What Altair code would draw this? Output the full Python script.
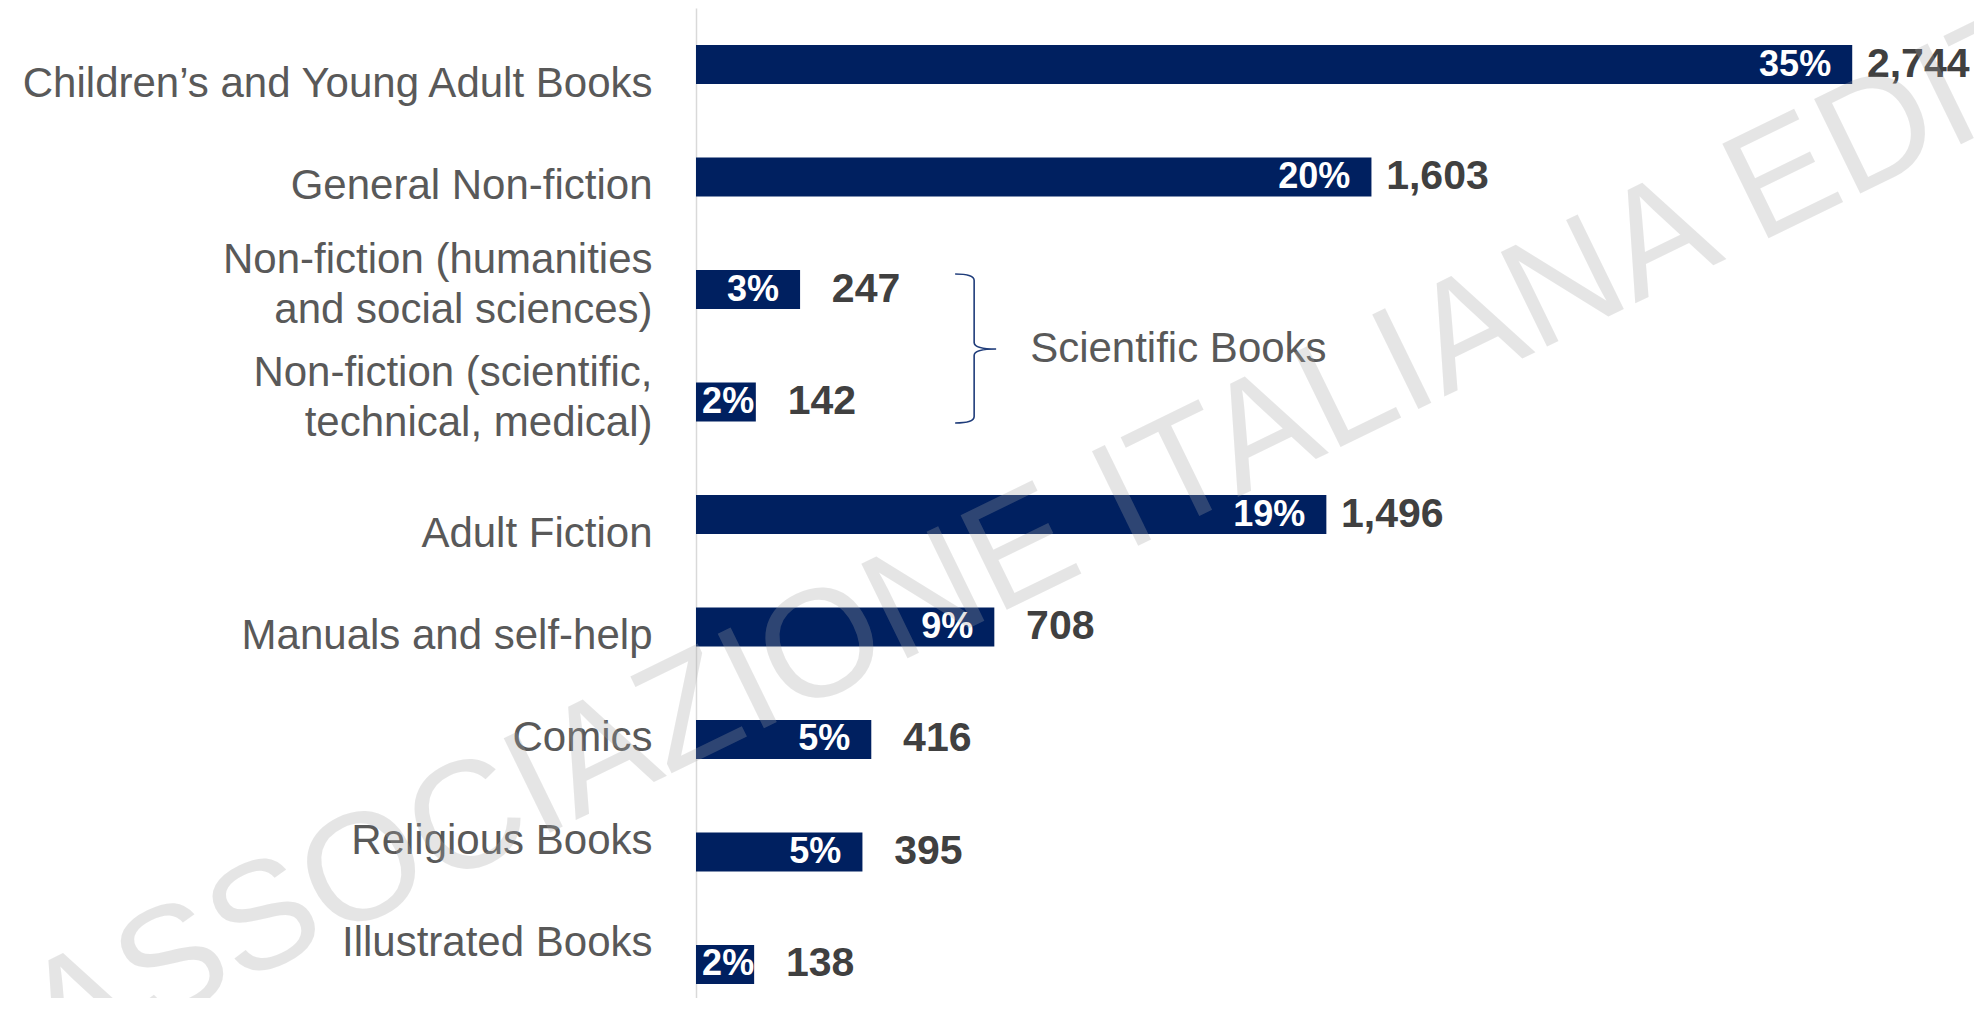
import altair as alt
import pandas as pd

# ---- data ----
categories = [
    "Children’s and Young Adult Books",
    "General Non-fiction",
    "Non-fiction (humanities|and social sciences)",
    "Non-fiction (scientific,|technical, medical)",
    "Adult Fiction",
    "Manuals and self-help",
    "Comics",
    "Religious Books",
    "Illustrated Books",
]
titles = [2744, 1603, 247, 142, 1496, 708, 416, 395, 138]
shares = ["35%", "20%", "3%", "2%", "19%", "9%", "5%", "5%", "2%"]
bracket_label = "Scientific Books"
watermark = "ASSOCIAZIONE ITALIANA EDITORI"

# per-label vertical nudge of the category labels (style, px)
label_shift = [19, 9, -30, -29, 19, 9, -1, -11, -21]

FONT = "Liberation Sans, Arial, sans-serif"
NAVY = "#002060"

df = pd.DataFrame({"category": categories, "value": titles, "share": shares})

xscale = alt.Scale(domain=[0, 3033])
yscale = alt.Scale(range=[0, 1013], paddingInner=0.653, paddingOuter=0.329)

label_offset = {
    "condition": [
        {"test": f"datum.value === {c!r}".replace("'", '"'), "value": s}
        for c, s in zip(categories, label_shift)
    ],
    "value": 0,
}

yaxis = alt.Axis(
    title=None,
    ticks=False,
    domainColor="#d9d9d9",
    domainWidth=1.5,
    labelFont=FONT,
    labelFontSize=42,
    labelColor="#595959",
    labelPadding=44,
    labelLimit=0,
    labelLineHeight=50,
    labelExpr="split(datum.label, '|')",
    labelOffset=label_offset,
)

Y = alt.Y("category:N", sort=categories, scale=yscale, axis=yaxis)

base = alt.Chart(df)

bars = base.mark_bar(color=NAVY).encode(
    x=alt.X("value:Q", scale=xscale, axis=None),
    y=Y,
)

pct = base.transform_calculate(
    pct_x="max(datum.value - 50, 138)"
).mark_text(
    align="right", baseline="middle", font=FONT, fontSize=36,
    fontWeight="bold", color="white"
).encode(
    x=alt.X("pct_x:Q", scale=xscale, axis=None),
    y=Y,
    text="share:N",
)

vals = base.mark_text(
    align="center", baseline="middle", dx=66, font=FONT, fontSize=41,
    fontWeight="bold", color="#404040"
).encode(
    x=alt.X("value:Q", scale=xscale, axis=None),
    y=Y,
    text=alt.Text("value:Q", format=","),
)

brace_path = (
    "M0,-0.1033 Q0.1267,-0.1033 0.1267,-0.06 L0.1267,0.353 "
    "Q0.1267,0.3967 0.2733,0.3967 Q0.1267,0.3967 0.1267,0.44 "
    "L0.1267,0.8467 Q0.1267,0.89 0,0.89"
)

grp = base.transform_filter(alt.datum.category == categories[2]).transform_calculate(
    brace_x="615", text_x="793", lab=f"'{bracket_label}'"
)

brace = grp.mark_point(
    shape=brace_path, size=90000, filled=False, color="#1F3C7A",
    strokeWidth=1.6, opacity=1
).encode(
    x=alt.X("brace_x:Q", scale=xscale, axis=None),
    y=Y,
)

sci = grp.mark_text(
    align="left", baseline="middle", dy=59.5, font=FONT, fontSize=42,
    color="#595959"
).encode(
    x=alt.X("text_x:Q", scale=xscale, axis=None),
    y=Y,
    text="lab:N",
)

wm = alt.Chart(pd.DataFrame({"t": [watermark]})).mark_text(
    align="center", baseline="middle", angle=334, font=FONT, fontSize=153,
    color="#a6a6a6", opacity=0.28
).encode(
    x=alt.value(468),
    y=alt.value(474),
    text="t:N",
)

chart = alt.layer(bars, pct, vals, brace, sci, wm).properties(
    width=1278,
    height=990,
    autosize=alt.AutoSizeParams(type="none"),
    padding={"left": 688, "top": 0, "right": 0, "bottom": 0},
    background="white",
).configure_view(stroke=None)

chart.save("out.html", embed_options={"renderer": "svg", "actions": False})
